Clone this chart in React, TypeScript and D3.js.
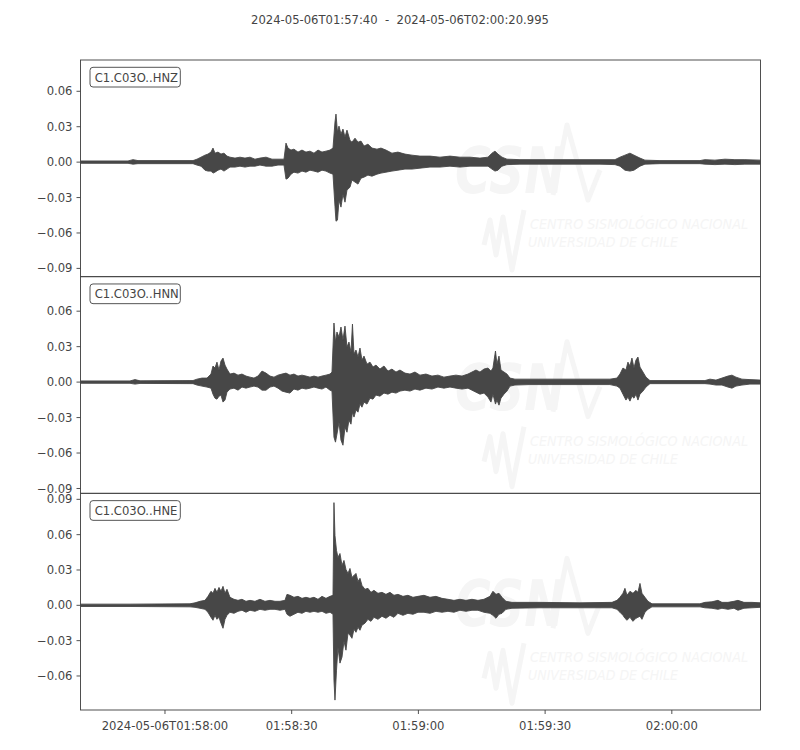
import React from 'react';
import * as d3 from 'd3';

type Pt = [number, number, number]; // [seconds since start, max, min]

const titleStart = '2024-05-06T01:57:40';
const titleEnd = '2024-05-06T02:00:20.995';
const durationSec = 160.995;
const channelNames = ['C1.C03O..HNZ', 'C1.C03O..HNN', 'C1.C03O..HNE'];
const yDomains: [number, number][] = [
  [-0.097, 0.0865],
  [-0.0941, 0.0892],
  [-0.0889, 0.0951],
];
const yTickValues = [-0.09, -0.06, -0.03, 0, 0.03, 0.06, 0.09];
const xTickSeconds = [20, 50, 80, 110, 140];
const xTickLabels = ['2024-05-06T01:58:00', '01:58:30', '01:59:00', '01:59:30', '02:00:00'];

const hnzEnvelope: Pt[] = [
  [0, 0.001, -0.001], [11.25, 0.001, -0.001], [12.43, 0.0021, -0.0017], [13.61, 0.0013, -0.0013],
  [26.63, 0.0013, -0.0013], [27.58, 0.0025, -0.0025], [28.53, 0.0042, -0.0034], [29.47, 0.0059, -0.0068],
  [30.18, 0.0068, -0.0076], [30.89, 0.0085, -0.0076], [31.37, 0.0119, -0.0093], [31.84, 0.0076, -0.0085],
  [32.55, 0.0085, -0.0068], [33.26, 0.0068, -0.0059], [33.97, 0.0076, -0.0076], [34.68, 0.0051, -0.0059],
  [35.39, 0.0042, -0.0042], [36.58, 0.0034, -0.0042], [37.76, 0.0042, -0.0034], [38.94, 0.0034, -0.0042],
  [40.13, 0.0042, -0.0034], [41.31, 0.0025, -0.0034], [42.49, 0.0034, -0.0025], [43.92, 0.0042, -0.0034],
  [45.34, 0.0025, -0.0034], [46.76, 0.0025, -0.0025], [48.18, 0.0025, -0.0025], [48.65, 0.0161, -0.0144],
  [49.12, 0.0119, -0.0136], [49.83, 0.0102, -0.0102], [50.54, 0.011, -0.0085], [51.49, 0.0085, -0.0093],
  [52.44, 0.0102, -0.0076], [53.38, 0.0085, -0.0085], [54.33, 0.0093, -0.0068], [55.28, 0.0076, -0.0076],
  [56.23, 0.0102, -0.0085], [57.17, 0.0085, -0.0068], [58.12, 0.0093, -0.0076], [59.07, 0.0102, -0.0093],
  [59.78, 0.0119, -0.0102], [60.25, 0.0339, -0.0373], [60.49, 0.0407, -0.05], [60.84, 0.0254, -0.0491],
  [61.2, 0.0305, -0.0322], [61.67, 0.0237, -0.0381], [62.14, 0.028, -0.0271], [62.62, 0.0212, -0.0339],
  [63.09, 0.0271, -0.0237], [63.8, 0.0186, -0.0212], [64.27, 0.0169, -0.0152], [64.99, 0.0203, -0.0169],
  [65.7, 0.0169, -0.0186], [66.41, 0.0178, -0.0136], [67.12, 0.0136, -0.0127], [68.06, 0.0152, -0.011],
  [69.01, 0.0119, -0.0119], [70.19, 0.011, -0.0102], [71.14, 0.0119, -0.0093], [72.32, 0.0102, -0.0085],
  [73.74, 0.0076, -0.0076], [75.16, 0.0085, -0.0068], [76.82, 0.0068, -0.0059], [78.48, 0.0059, -0.0059],
  [80.37, 0.0051, -0.0051], [82.74, 0.0051, -0.0042], [85.11, 0.0042, -0.0042], [87.48, 0.0051, -0.0034],
  [89.84, 0.0042, -0.0042], [92.21, 0.0042, -0.0034], [94.58, 0.0034, -0.0034], [96.47, 0.0042, -0.0034],
  [97.42, 0.0076, -0.0059], [98.13, 0.0093, -0.0076], [98.84, 0.0068, -0.0068], [99.79, 0.0042, -0.0034],
  [100.97, 0.0025, -0.0021], [104.05, 0.0021, -0.0017], [113.52, 0.0021, -0.0017], [122.99, 0.0021, -0.0017],
  [126.54, 0.0021, -0.0021], [127.72, 0.0042, -0.0034], [128.9, 0.0059, -0.0068], [130.09, 0.0076, -0.0076],
  [131.04, 0.0059, -0.0068], [132.46, 0.0034, -0.0034], [133.64, 0.0017, -0.0017], [137.19, 0.0013, -0.0013],
  [146.66, 0.0013, -0.0013], [147.84, 0.0021, -0.0017], [150.21, 0.0017, -0.0021], [152.58, 0.0025, -0.0017],
  [154.94, 0.0021, -0.0021], [157.31, 0.0021, -0.0017], [160.99, 0.0017, -0.0017],
];

const hnnEnvelope: Pt[] = [
  [0, 0.001, -0.001], [11.72, 0.001, -0.001], [12.9, 0.0021, -0.0017], [14.09, 0.0011, -0.0011],
  [26.63, 0.0013, -0.0013], [27.58, 0.0025, -0.0025], [28.76, 0.0034, -0.0034], [29.95, 0.0034, -0.0042],
  [30.89, 0.0068, -0.0051], [31.37, 0.0136, -0.0102], [31.84, 0.0119, -0.0136], [32.31, 0.0169, -0.0144],
  [32.79, 0.0102, -0.0119], [33.26, 0.0178, -0.011], [33.74, 0.0203, -0.0169], [34.21, 0.0144, -0.0152],
  [34.68, 0.011, -0.0085], [35.39, 0.0068, -0.0059], [36.34, 0.0076, -0.0051], [37.29, 0.0059, -0.0068],
  [38.23, 0.0068, -0.0042], [39.18, 0.0051, -0.0051], [40.13, 0.0042, -0.0042], [41.07, 0.0034, -0.0034],
  [42.02, 0.0051, -0.0042], [42.97, 0.0093, -0.0068], [43.92, 0.0076, -0.0068], [44.86, 0.0051, -0.0042],
  [45.81, 0.0042, -0.0034], [46.76, 0.0059, -0.0051], [47.7, 0.0068, -0.0076], [48.65, 0.0076, -0.0085],
  [49.6, 0.0059, -0.0093], [50.54, 0.0068, -0.0059], [51.49, 0.0051, -0.0068], [52.44, 0.0059, -0.0051],
  [53.38, 0.0051, -0.0059], [54.33, 0.0042, -0.0051], [55.28, 0.0051, -0.0042], [56.23, 0.0042, -0.0051],
  [57.17, 0.0051, -0.0059], [58.12, 0.0059, -0.0042], [59.07, 0.0068, -0.0068], [59.54, 0.0085, -0.0076],
  [60.01, 0.05, -0.0466], [60.37, 0.0339, -0.0508], [60.72, 0.0424, -0.044], [61.2, 0.0381, -0.0339],
  [61.67, 0.0466, -0.0491], [62.14, 0.0356, -0.0534], [62.62, 0.0474, -0.0381], [63.09, 0.0296, -0.0424],
  [63.56, 0.0339, -0.0322], [64.04, 0.0254, -0.0356], [64.39, 0.0491, -0.0254], [64.75, 0.0237, -0.0296],
  [65.22, 0.0271, -0.0237], [65.7, 0.0212, -0.0254], [66.17, 0.0288, -0.0186], [66.64, 0.0186, -0.0212],
  [67.12, 0.022, -0.0169], [67.83, 0.0152, -0.0186], [68.54, 0.0169, -0.0136], [69.25, 0.0127, -0.0144],
  [69.96, 0.0144, -0.011], [70.9, 0.011, -0.0119], [71.85, 0.0136, -0.0093], [72.8, 0.0093, -0.0102],
  [73.74, 0.011, -0.0085], [74.69, 0.0085, -0.0093], [75.64, 0.0102, -0.0076], [76.82, 0.0076, -0.0068],
  [78.01, 0.0068, -0.0076], [79.19, 0.0085, -0.0059], [80.37, 0.0059, -0.0068], [81.79, 0.0068, -0.0051],
  [83.21, 0.0051, -0.0059], [84.63, 0.0059, -0.0042], [86.05, 0.0042, -0.0051], [87.48, 0.0051, -0.0042],
  [88.9, 0.0059, -0.0051], [90.32, 0.0051, -0.0059], [91.74, 0.0068, -0.0051], [92.68, 0.0085, -0.0068],
  [93.63, 0.0102, -0.0085], [94.58, 0.0085, -0.0102], [95.52, 0.011, -0.0093], [96.47, 0.0119, -0.0127],
  [97.18, 0.0093, -0.0169], [97.65, 0.0119, -0.0102], [98.25, 0.0263, -0.0186], [98.6, 0.0152, -0.0152],
  [99.08, 0.022, -0.0195], [99.55, 0.0102, -0.0136], [100.26, 0.0085, -0.0102], [100.97, 0.0068, -0.0076],
  [101.68, 0.0034, -0.0034], [102.86, 0.0025, -0.0025], [106.41, 0.0025, -0.0021], [113.52, 0.0025, -0.0021],
  [120.62, 0.0025, -0.0021], [125.35, 0.0025, -0.0021], [127.01, 0.0034, -0.0034], [127.72, 0.0068, -0.0051],
  [128.43, 0.0119, -0.0102], [129.14, 0.0102, -0.0152], [129.61, 0.0169, -0.0127], [130.09, 0.0136, -0.0161],
  [130.56, 0.0203, -0.0119], [131.04, 0.0119, -0.0136], [131.51, 0.0186, -0.0102], [131.98, 0.0212, -0.0152],
  [132.46, 0.0127, -0.0102], [133.17, 0.0085, -0.0076], [133.88, 0.0042, -0.0042], [134.82, 0.0013, -0.0013],
  [147.84, 0.0013, -0.0013], [149.03, 0.0025, -0.0017], [150.45, 0.0017, -0.0025], [151.87, 0.0034, -0.0025],
  [153.29, 0.0051, -0.0042], [154.24, 0.0059, -0.0051], [155.18, 0.0042, -0.0034], [156.6, 0.0025, -0.0025],
  [158.5, 0.0021, -0.0017], [160.99, 0.0017, -0.0017],
];

const hneEnvelope: Pt[] = [
  [0, 0.001, -0.001], [11.72, 0.001, -0.001], [25.92, 0.0013, -0.0013], [27.11, 0.0021, -0.0017],
  [28.29, 0.0034, -0.0025], [29.47, 0.0042, -0.0034], [30.18, 0.0076, -0.0059], [30.89, 0.0119, -0.0102],
  [31.37, 0.0102, -0.0127], [31.84, 0.0144, -0.0085], [32.31, 0.011, -0.0119], [32.79, 0.0152, -0.0102],
  [33.26, 0.0119, -0.0152], [33.74, 0.0161, -0.0195], [34.21, 0.0102, -0.0119], [34.68, 0.0136, -0.0085],
  [35.39, 0.0068, -0.0059], [36.34, 0.0051, -0.0068], [37.29, 0.0042, -0.0051], [38.23, 0.0051, -0.0042],
  [39.18, 0.0034, -0.0059], [40.13, 0.0042, -0.0042], [41.31, 0.0034, -0.0051], [42.49, 0.0051, -0.0034],
  [43.68, 0.0034, -0.0042], [44.86, 0.0042, -0.0034], [46.05, 0.0034, -0.0034], [47.23, 0.0034, -0.0042],
  [48.41, 0.0042, -0.0034], [48.89, 0.0093, -0.0076], [49.6, 0.0085, -0.0093], [50.54, 0.0068, -0.0076],
  [51.49, 0.0076, -0.0059], [52.44, 0.0059, -0.0068], [53.38, 0.0068, -0.0051], [54.33, 0.0059, -0.0059],
  [55.28, 0.0068, -0.0051], [56.23, 0.0051, -0.0059], [57.17, 0.0076, -0.0051], [58.12, 0.0059, -0.0068],
  [59.07, 0.0076, -0.0059], [59.78, 0.0085, -0.0076], [60.01, 0.0872, -0.0635], [60.25, 0.0593, -0.0805],
  [60.61, 0.0466, -0.0551], [60.96, 0.0407, -0.0356], [61.43, 0.044, -0.0491], [61.91, 0.0339, -0.044],
  [62.38, 0.0381, -0.0305], [62.85, 0.0305, -0.0381], [63.33, 0.0271, -0.0237], [63.8, 0.0313, -0.0254],
  [64.27, 0.0237, -0.028], [64.75, 0.0254, -0.0203], [65.22, 0.0271, -0.0229], [65.7, 0.0203, -0.0186],
  [66.17, 0.0229, -0.0212], [66.64, 0.0169, -0.0169], [67.35, 0.0136, -0.0152], [68.06, 0.0144, -0.0119],
  [68.77, 0.011, -0.0136], [69.48, 0.0127, -0.0102], [70.43, 0.0102, -0.0119], [71.38, 0.011, -0.0093],
  [72.32, 0.0093, -0.011], [73.27, 0.011, -0.0085], [74.22, 0.0085, -0.0102], [75.16, 0.0093, -0.0068],
  [76.35, 0.0076, -0.0085], [77.53, 0.0085, -0.0068], [78.72, 0.0068, -0.0076], [79.9, 0.0076, -0.0059],
  [81.32, 0.0085, -0.0059], [82.74, 0.0068, -0.0068], [84.16, 0.0076, -0.0051], [85.58, 0.0059, -0.0059],
  [87.0, 0.0051, -0.0051], [88.42, 0.0042, -0.0059], [89.84, 0.0051, -0.0042], [91.26, 0.0042, -0.0051],
  [92.68, 0.0051, -0.0042], [94.1, 0.0042, -0.0042], [95.52, 0.0051, -0.0059], [96.94, 0.0076, -0.0068],
  [97.65, 0.0119, -0.0085], [98.37, 0.0093, -0.011], [99.08, 0.0102, -0.0076], [99.79, 0.0068, -0.0068],
  [100.73, 0.0034, -0.0034], [102.15, 0.0025, -0.0025], [108.78, 0.0025, -0.0021], [118.25, 0.0021, -0.0021],
  [125.83, 0.0025, -0.0021], [127.01, 0.0042, -0.0034], [127.72, 0.0068, -0.0059], [128.43, 0.0102, -0.0085],
  [128.9, 0.0144, -0.011], [129.38, 0.0085, -0.0127], [130.09, 0.0119, -0.0102], [130.8, 0.0102, -0.0136],
  [131.51, 0.0127, -0.011], [131.98, 0.011, -0.0102], [132.46, 0.0186, -0.0093], [132.93, 0.0102, -0.0119],
  [133.64, 0.0068, -0.0059], [134.35, 0.0034, -0.0034], [135.3, 0.0013, -0.0013], [146.66, 0.0013, -0.0013],
  [147.84, 0.0025, -0.0021], [149.5, 0.003, -0.0025], [150.92, 0.0042, -0.0034], [151.87, 0.0025, -0.0025],
  [153.29, 0.0025, -0.0034], [154.71, 0.0034, -0.0025], [155.66, 0.0042, -0.0042], [157.08, 0.0025, -0.0025],
  [158.97, 0.0025, -0.0021], [160.99, 0.0021, -0.0017],
];

const traces = [hnzEnvelope, hnnEnvelope, hneEnvelope];

const FONT = '"DejaVu Sans", sans-serif';
const TEXT = '#444444';
const WAVE = '#474747';
const MARK = '#f5f5f5';

export default function App() {
  const left = 80.5;
  const right = 760.5;
  const top = 60;
  const bottom = 710;
  const panelH = (bottom - top) / 3;

  const x = d3.scaleLinear().domain([0, durationSec]).range([left, right]);
  const fmt = (v: number) => (v < -1e-9 ? '\u2212' : '') + Math.abs(v).toFixed(2);

  return (
    <svg
      width={800}
      height={750}
      style={{ position: 'absolute', left: 0, top: 0, background: '#fff' }}
      fontFamily={FONT}
    >
      <rect x={0} y={0} width={800} height={750} fill="#fff" />
      <text x={400} y={24} textAnchor="middle" fontSize={11.6} fill={TEXT} style={{ whiteSpace: 'pre' }}>
        {`${titleStart}  -  ${titleEnd}`}
      </text>
      <defs>
        {channelNames.map((_, i) => (
          <clipPath id={`clip${i}`} key={i}>
            <rect x={left} y={top + i * panelH} width={right - left} height={panelH} />
          </clipPath>
        ))}
      </defs>
      {traces.map((data, i) => {
        const pTop = top + i * panelH;
        const pBot = pTop + panelH;
        const y = d3.scaleLinear().domain(yDomains[i]).range([pBot, pTop]);
        const area = d3
          .area<Pt>()
          .x((d) => x(d[0]))
          .y0((d) => y(d[2]))
          .y1((d) => y(d[1]))
          .curve(d3.curveLinear);
        const ticks = yTickValues.filter((v) => v >= yDomains[i][0] - 1e-9 && v <= yDomains[i][1] + 1e-9);
        return (
          <g key={i}>
            {/* faint watermark */}
            <g fill={MARK} stroke="none">
              <text
                x={455}
                y={pTop + 133}
                fontSize={64}
                fontWeight="bold"
                fontStyle="italic"
                textLength={110}
                lengthAdjust="spacingAndGlyphs"
              >
                CSN
              </text>
              <path
                d={`M 553 ${pTop + 135} L 567 ${pTop + 65} L 588 ${pTop + 140} L 600 ${pTop + 110}`}
                fill="none"
                stroke={MARK}
                strokeWidth={5}
                strokeLinejoin="round"
              />
              <path
                d={`M 484 ${pTop + 185} L 490 ${pTop + 160} L 496 ${pTop + 195} L 503 ${pTop + 157} L 512 ${pTop + 210} L 524 ${pTop + 150}`}
                fill="none"
                stroke={MARK}
                strokeWidth={5}
                strokeLinejoin="round"
              />
              <text
                x={530}
                y={pTop + 169}
                fontSize={14.5}
                fontStyle="italic"
                textLength={218}
                lengthAdjust="spacingAndGlyphs"
              >
                CENTRO SISMOLÓGICO NACIONAL
              </text>
              <text
                x={528}
                y={pTop + 187}
                fontSize={14.5}
                fontStyle="italic"
                textLength={150}
                lengthAdjust="spacingAndGlyphs"
              >
                UNIVERSIDAD DE CHILE
              </text>
            </g>
            <path
              d={area(data) || ''}
              fill={WAVE}
              stroke={WAVE}
              strokeWidth={0.9}
              strokeLinejoin="round"
              clipPath={`url(#clip${i})`}
            />
            <rect
              x={left}
              y={pTop}
              width={right - left}
              height={panelH}
              fill="none"
              stroke={TEXT}
              strokeWidth={0.93}
            />
            {ticks.map((v) => (
              <g key={v}>
                <line x1={left - 4} x2={left} y1={y(v)} y2={y(v)} stroke={TEXT} strokeWidth={0.93} />
                <text x={left - 8} y={y(v)} dy="0.35em" textAnchor="end" fontSize={11.6} fill={TEXT}>
                  {fmt(v)}
                </text>
              </g>
            ))}
            <rect
              x={90}
              y={pTop + 7.3}
              width={90.3}
              height={19.7}
              rx={3}
              ry={3}
              fill="#fff"
              stroke="#555"
              strokeWidth={1}
            />
            <text x={94.7} y={pTop + 21.6} fontSize={11.6} fill={TEXT}>
              {channelNames[i]}
            </text>
          </g>
        );
      })}
      {xTickSeconds.map((s, k) => (
        <g key={s}>
          <line x1={x(s)} x2={x(s)} y1={bottom} y2={bottom + 4} stroke={TEXT} strokeWidth={0.93} />
          <text x={x(s)} y={bottom + 19.5} textAnchor="middle" fontSize={11.6} fill={TEXT}>
            {xTickLabels[k]}
          </text>
        </g>
      ))}
    </svg>
  );
}
